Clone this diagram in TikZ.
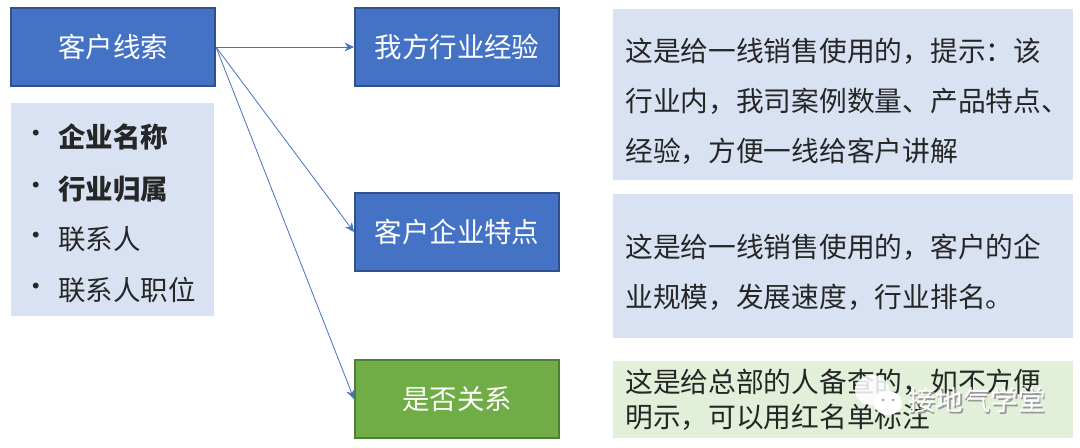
\documentclass[tikz,border=0pt]{standalone}
\usepackage{fontspec}
\usepackage{amsmath}
\usetikzlibrary{arrows.meta}
\setmainfont{Noto Sans CJK SC}

\definecolor{boxblue}{HTML}{4472C4}
\definecolor{edgeblue}{HTML}{2F528F}
\definecolor{boxgreen}{HTML}{70AD47}
\definecolor{edgegreen}{HTML}{507E32}
\definecolor{paleblue}{HTML}{D9E2F3}
\definecolor{palegreen}{HTML}{E2F0D9}
\definecolor{inkgray}{HTML}{262626}

\tikzset{
  mainbox/.style={draw=edgeblue,fill=boxblue,line width=1.5pt,text=white,minimum width=153pt,minimum height=58pt,inner sep=0pt,font=\fontsize{20.6}{24}\selectfont},
  greenbox/.style={mainbox,draw=edgegreen,fill=boxgreen},
  notebox/.style={fill=paleblue,minimum width=345pt,inner sep=0pt},
  notetext/.style={anchor=west,inner sep=0pt,align=left,text=inkgray,font=\fontsize{20.8}{37.6}\selectfont},
  itemtext/.style={anchor=west,inner sep=0pt,text=inkgray,font=\fontsize{20.6}{24}\selectfont},
  linkline/.style={draw=boxblue,line width=0.6pt,-{Stealth[length=7pt,width=6.5pt]}},
}

\begin{document}
\begin{tikzpicture}[x=0.75pt,y=0.75pt,yscale=-1,xscale=1]
\path[use as bounding box] (0,0) rectangle (1080,447);

%Shape: left column
\node[mainbox] (lead) at (113,47) {客户线索};
\node[fill=paleblue,minimum width=152.5pt,minimum height=160pt,inner sep=0pt] (fields) at (112.5,209.5) {};

% Text Node
\node[itemtext] (dota) at (22,137) {•};
\node[itemtext] (dotb) at (22,189) {•};
\node[itemtext] (dotc) at (22,239) {•};
\node[itemtext] (dotd) at (22,290) {•};
\node[itemtext,font=\fontsize{20.6}{24}\selectfont\bfseries] (itema) at (58,137) {企业名称};
\node[itemtext,font=\fontsize{20.6}{24}\selectfont\bfseries] (itemb) at (58,189) {行业归属};
\node[itemtext] (itemc) at (58,239) {联系人};
\node[itemtext] (itemd) at (58,290) {联系人职位};

%Shape: middle column
\node[mainbox] (exper) at (457,47) {我方行业经验};
\node[mainbox] (traits) at (457,232) {客户企业特点};
\node[greenbox] (relation) at (457,399) {是否关系};

%Straight Lines
\draw[linkline] (lead.east) -- (exper.west);
\draw[linkline] (lead.east) -- (traits.west);
\draw[linkline] (lead.east) -- (relation.west);

%Shape: right column
\node[notebox,minimum height=128.25pt] (notea) at (843,94.5) {};
\node[notebox,minimum height=108pt] (noteb) at (843,266) {};
\node[notebox,fill=palegreen,minimum height=57.75pt] (notec) at (843,399.5) {};

% Text Node
\node[notetext] (texta) at (625,101) {这是给一线销售使用的，提示：该\\行业内，我司案例数量、产品特点、\\经验，方便一线给客户讲解};
\node[notetext] (textb) at (625,272) {这是给一线销售使用的，客户的企\\业规模，发展速度，行业排名。};
\node[notetext,font=\fontsize{20.8}{26.2}\selectfont] (textc) at (625,400) {这是给总部的人备查的，如不方便\\明示，可以用红名单标注};

%Watermark
\fill[white,opacity=0.85] (872,390) circle [x radius=17,y radius=15];
\fill[white] (888,403) circle [x radius=14,y radius=12];
\fill[gray!70] (883,400) circle (1.5) (893,400) circle (1.5);
\node[anchor=west,inner sep=0pt,text=gray!80,font=\fontsize{20.6}{24}\selectfont] (markshade) at (909.5,401.5) {接地气学堂};
\node[anchor=west,inner sep=0pt,text=white,font=\fontsize{20.6}{24}\selectfont] (mark) at (908,400) {接地气学堂};

\end{tikzpicture}
\end{document}
